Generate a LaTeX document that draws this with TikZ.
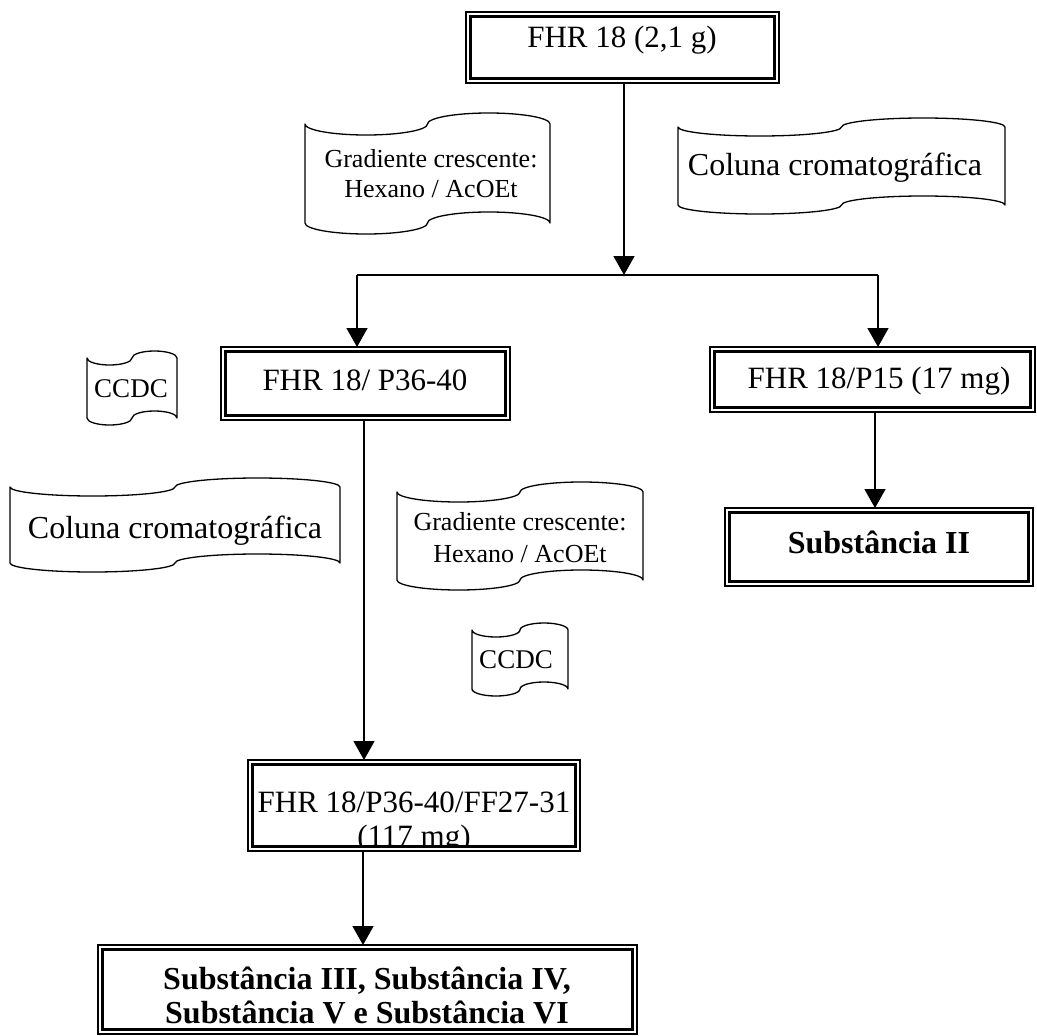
\documentclass[tikz,border=0pt]{standalone}
\usepackage{fontspec}
\setmainfont{Liberation Serif}
\usetikzlibrary{arrows.meta}
\newcommand\mybox[5]{%
  \node[outerbox, minimum width={(#4-#2)*1pt}, minimum height={(#5-#3)*1pt}] (#1) at ({(#2+#4)/2},{(#3+#5)/2}) {};
  \draw[innerline] ([xshift=4.5pt,yshift=-4.5pt]#1.north west) rectangle ([xshift=-4.5pt,yshift=4.5pt]#1.south east);}
% punched tape: x0, y0 (top corners), x1, y1 (bottom corners), d (wave depth)
\newcommand\mytape[5]{%
  \pgfmathsetmacro\ra{(#3-#1)/4}%
  \pgfmathsetmacro\kr{0.5523*\ra}%
  \pgfmathsetmacro\kd{0.5523*#5}%
  \draw[tapeline] (#1,#2)
    .. controls (#1,{#2+\kd}) and ({#1+\ra-\kr},{#2+#5}) .. ({#1+\ra},{#2+#5})
    .. controls ({#1+\ra+\kr},{#2+#5}) and ({#1+2*\ra},{#2+\kd}) .. ({#1+2*\ra},#2)
    .. controls ({#1+2*\ra},{#2-\kd}) and ({#1+3*\ra-\kr},{#2-#5}) .. ({#1+3*\ra},{#2-#5})
    .. controls ({#1+3*\ra+\kr},{#2-#5}) and (#3,{#2-\kd}) .. (#3,#2)
    -- (#3,#4)
    .. controls (#3,{#4-\kd}) and ({#1+3*\ra+\kr},{#4-#5}) .. ({#1+3*\ra},{#4-#5})
    .. controls ({#1+3*\ra-\kr},{#4-#5}) and ({#1+2*\ra},{#4-\kd}) .. ({#1+2*\ra},#4)
    .. controls ({#1+2*\ra},{#4+\kd}) and ({#1+\ra+\kr},{#4+#5}) .. ({#1+\ra},{#4+#5})
    .. controls ({#1+\ra-\kr},{#4+#5}) and (#1,{#4+\kd}) .. (#1,#4)
    -- cycle;}
\begin{document}
\begin{tikzpicture}[x=1pt,y=-1pt,
  outerbox/.style={draw, line width=1.5pt, inner sep=0pt, outer sep=0pt},
  innerline/.style={line width=2.8pt},
  tapeline/.style={line width=1.3pt, line join=round},
  conn/.style={line width=1.5pt},
  arr/.style={conn, -{Triangle[width=21pt,length=19pt]}},
  txt/.style={anchor=base, inner sep=0pt, font=\fontsize{31pt}{36pt}\selectfont},
  txtb/.style={anchor=base, inner sep=0pt, font=\fontsize{32pt}{36pt}\selectfont\bfseries},
  txtl/.style={anchor=base, inner sep=0pt, font=\fontsize{32pt}{36pt}\selectfont},
  txts/.style={anchor=base, inner sep=0pt, font=\fontsize{26pt}{30pt}\selectfont},
  txtc/.style={anchor=base, inner sep=0pt, font=\fontsize{27pt}{30pt}\selectfont}]
\useasboundingbox (0,0) rectangle (1037,1036);
\fill[white] (0,0) rectangle (1037,1036);

% boxes
\mybox{top}{466}{12}{779}{83}
\mybox{pa}{221}{347}{510}{420}
\mybox{pb}{710}{347}{1035}{412}
\mybox{sb}{725}{508}{1033}{586}
\mybox{ff}{248}{760}{580}{851}
\mybox{bot}{98}{945}{637}{1034}

\node[txt] (ttop) at (622,47) {FHR 18 (2,1 g)};
\node[txt] (tpa) at (365,390) {FHR 18/ P36-40};
\node[txt] (tpb) at (879,388) {FHR 18/P15 (17 mg)};
\node[txtb] (tsb) at (879,553) {Substância II};
\begin{scope}
\clip ([xshift=6pt,yshift=-6pt]ff.north west) rectangle ([xshift=-6pt,yshift=6pt]ff.south east);
\node[txt] (tff1) at (414,812) {FHR 18/P36-40/FF27-31};
\node[txt] (tff2) at (414,846) {(117 mg)};
\end{scope}
\node[txtb] (tbot1) at (367,989) {Substância III, Substância IV,};
\node[txtb] (tbot2) at (367,1023) {Substância V e Substância VI};

% tapes
\mytape{305}{124}{550}{223}{11}
\node[txts] (g1a) at (431,167) {Gradiente crescente:};
\node[txts] (g1b) at (431,197) {Hexano / AcOEt};
\mytape{678}{127}{1005}{205}{9}
\node[txtl] (c1) at (835,175) {Coluna cromatográfica};
\mytape{87}{358}{177}{418}{7}
\node[txtc] (cc1) at (131,397) {CCDC};
\mytape{10}{487}{340}{563}{9}
\node[txtl] (c2) at (175,538) {Coluna cromatográfica};
\mytape{397}{492}{643}{580}{10}
\node[txts] (g2a) at (520,530) {Gradiente crescente:};
\node[txts] (g2b) at (520,562) {Hexano / AcOEt};
\mytape{472}{630}{568}{689}{7}
\node[txtc] (cc2) at (516,668) {CCDC};

% connectors
\coordinate (j) at (624,275);
\coordinate (jl) at (357,275);
\coordinate (jr) at (878,275);
\draw[arr] (top.south -| j) -- (j);
\draw[conn] (jl) -- (jr);
\draw[arr] (jl) -- (jl |- pa.north);
\draw[arr] (jr) -- (jr |- pb.north);
\coordinate (xa) at (364,0);
\draw[arr] (pa.south -| xa) -- (ff.north -| xa);
\coordinate (xb) at (875,0);
\draw[arr] (pb.south -| xb) -- (sb.north -| xb);
\coordinate (xc) at (363,0);
\draw[arr] (ff.south -| xc) -- (bot.north -| xc);
\end{tikzpicture}
\end{document}
